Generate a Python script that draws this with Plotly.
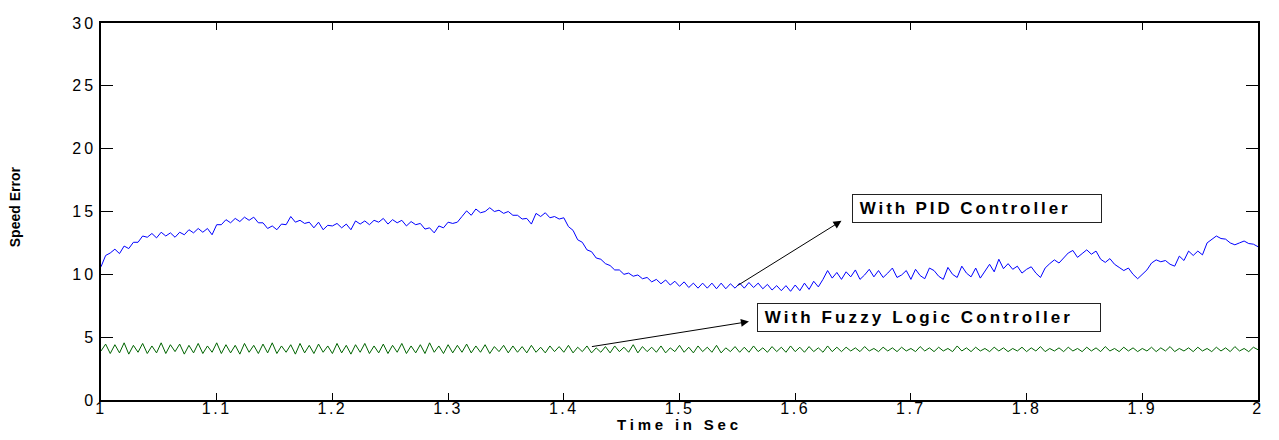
import numpy as np
import plotly.graph_objects as go

# Speed error with PID controller, sampled every 0.004 s from t = 1.0 to 2.0
pid_error = [
    10.6, 11.5, 11.7, 12.0, 11.65, 12.25, 12.05, 12.55, 12.55, 13.05,
    12.95, 13.25, 12.9, 13.35, 13.05, 13.3, 12.95, 13.35, 13.15, 13.55,
    13.3, 13.65, 13.35, 13.65, 13.15, 13.95, 13.95, 14.35, 14.1, 14.45,
    14.2, 14.55, 14.3, 14.55, 14.1, 14.1, 13.65, 13.85, 13.55, 14.0,
    13.95, 14.6, 14.15, 14.3, 14.05, 14.15, 13.7, 14.15, 13.55, 13.9,
    13.85, 14.05, 13.7, 14.0, 13.55, 14.25, 14.0, 14.25, 13.95, 14.3,
    14.15, 14.45, 14.0, 14.35, 14.1, 14.3, 13.85, 14.2, 13.95, 14.05,
    13.6, 13.7, 13.3, 13.85, 13.7, 14.15, 14.05, 14.15, 14.6, 15.05,
    14.7, 15.2, 14.9, 15.0, 15.3, 15.0, 15.1, 14.85, 15.0, 14.7,
    14.7, 14.4, 14.45, 14.0, 14.85, 14.6, 14.9, 14.5, 14.6, 14.4,
    14.5, 13.8, 13.5, 12.75, 12.55, 11.95, 11.8, 11.3, 11.2, 10.85,
    10.7, 10.35, 10.35, 10.0, 10.1, 9.85, 9.95, 9.65, 9.75, 9.4,
    9.6, 9.25, 9.55, 9.15, 9.45, 9.05, 9.4, 8.95, 9.3, 8.9,
    9.3, 8.9, 9.3, 8.85, 9.3, 8.85, 9.25, 8.9, 9.3, 8.9,
    9.35, 8.95, 9.3, 8.85, 9.2, 8.75, 9.1, 8.7, 9.1, 8.65,
    9.15, 8.7, 9.3, 8.8, 9.45, 9.0, 9.6, 10.3, 9.7, 10.15,
    9.6, 10.2, 9.8, 10.35, 9.6, 9.95, 10.4, 9.8, 10.3, 9.75,
    10.1, 10.5, 9.75, 9.95, 10.3, 9.6, 10.4, 9.9, 9.65, 10.5,
    10.3, 9.85, 9.6, 10.55, 10.0, 9.75, 10.65, 10.1, 9.8, 10.5,
    9.7, 10.2, 10.8, 10.2, 11.2, 10.45, 10.85, 10.4, 10.65, 10.1,
    10.4, 10.6, 10.1, 9.75, 10.5, 10.85, 11.15, 10.9, 11.3, 11.7,
    11.9, 11.35, 11.65, 11.95, 11.6, 11.85, 11.2, 10.95, 11.25, 10.8,
    10.55, 10.3, 10.5, 10.0, 9.65, 10.0, 10.35, 10.9, 11.15, 11.0,
    11.1, 10.8, 10.65, 11.45, 11.1, 11.85, 11.5, 11.85, 11.55, 12.5,
    12.8, 13.05, 12.85, 12.8, 12.5, 12.35, 12.5, 12.65, 12.45, 12.4,
    12.2,
]

# Speed error with fuzzy logic controller, same sampling
fuzzy_error = [
    3.9, 4.45, 3.7, 4.4, 3.75, 4.55, 3.65, 4.35, 3.8, 4.5,
    3.7, 4.3, 3.75, 4.55, 3.7, 4.4, 3.85, 4.45, 3.65, 4.35,
    3.75, 4.5, 3.7, 4.3, 3.8, 4.55, 3.7, 4.4, 3.75, 4.35,
    3.65, 4.5, 3.8, 4.35, 3.7, 4.45, 3.75, 4.55, 3.7, 4.3,
    3.8, 4.4, 3.65, 4.5, 3.75, 4.35, 3.7, 4.45, 3.8, 4.3,
    3.7, 4.5, 3.75, 4.35, 3.65, 4.4, 3.8, 4.5, 3.7, 4.3,
    3.75, 4.45, 3.7, 4.35, 3.8, 4.5, 3.7, 4.3, 3.75, 4.4,
    3.7, 4.55, 3.8, 4.3, 3.7, 4.4, 3.75, 4.35, 3.8, 4.45,
    3.75, 4.3, 3.8, 4.4, 3.7, 4.25, 3.85, 4.35, 3.75, 4.3,
    3.8, 4.25, 3.75, 4.35, 3.8, 4.2, 3.75, 4.3, 3.85, 4.25,
    3.8, 4.35, 3.75, 4.2, 3.85, 4.3, 3.75, 4.15, 3.8, 4.25,
    3.75, 4.3, 3.85, 4.2, 3.8, 4.4, 3.75, 4.25, 3.85, 4.2,
    3.8, 4.3, 3.75, 4.15, 3.85, 4.35, 3.8, 4.2, 3.75, 4.3,
    3.85, 4.2, 3.8, 4.35, 3.75, 4.15, 3.85, 4.25, 3.8, 4.2,
    3.8, 4.3, 3.85, 4.15, 3.8, 4.25, 3.85, 4.2, 3.8, 4.3,
    3.85, 4.2, 3.8, 4.25, 3.85, 4.15, 3.8, 4.3, 3.85, 4.2,
    3.85, 4.2, 3.9, 4.15, 3.85, 4.25, 3.9, 4.1, 3.85, 4.2,
    3.9, 4.15, 3.85, 4.2, 3.9, 4.1, 3.85, 4.25, 3.9, 4.15,
    3.85, 4.2, 3.9, 4.1, 3.85, 4.3, 3.9, 4.15, 3.85, 4.2,
    3.9, 4.1, 3.85, 4.2, 3.9, 4.15, 3.85, 4.1, 3.9, 4.2,
    3.85, 4.15, 3.9, 4.25, 3.85, 4.1, 3.9, 4.15, 3.85, 4.2,
    3.9, 4.1, 3.85, 4.2, 3.9, 4.15, 3.85, 4.25, 3.9, 4.1,
    3.85, 4.2, 3.9, 4.15, 3.85, 4.1, 3.9, 4.2, 3.85, 4.15,
    3.9, 4.25, 3.85, 4.1, 3.9, 4.15, 3.85, 4.2, 3.9, 4.1,
    3.85, 4.2, 3.9, 4.15, 3.85, 4.25, 3.9, 4.1, 3.85, 4.2,
    4.0,
]

t_start, t_end = 1.0, 2.0
time_s = np.round(np.linspace(t_start, t_end, len(pid_error)), 4)

x_ticks = [1, 1.1, 1.2, 1.3, 1.4, 1.5, 1.6, 1.7, 1.8, 1.9, 2]
x_tick_labels = ["1", "1.1", "1.2", "1.3", "1.4", "1.5", "1.6", "1.7", "1.8", "1.9", "2"]
y_ticks = [0, 5, 10, 15, 20, 25, 30]
y_tick_labels = ["0", "5", "10", "15", "20", "25", "30"]

pid_label = "With PID Controller"
fuzzy_label = "With Fuzzy Logic Controller"


def wide(s, sp):
    return '<span style="letter-spacing:%spx">%s</span>' % (sp, s)


fig = go.Figure()
fig.add_trace(go.Scatter(x=time_s, y=pid_error, mode="lines",
                         line=dict(color="#0000ff", width=1), name=pid_label,
                         showlegend=False))
fig.add_trace(go.Scatter(x=time_s, y=fuzzy_error, mode="lines",
                         line=dict(color="#006400", width=1), name=fuzzy_label,
                         showlegend=False))

tick_font = dict(family="Liberation Sans", size=16, color="black")
box_font = dict(family="Liberation Sans", size=17, color="black")

# arrows
fig.add_annotation(x=1.640, y=14.26, ax=1.549, ay=9.04, xref="x", yref="y",
                   axref="x", ayref="y", text="", showarrow=True,
                   arrowhead=2, arrowsize=1.6, arrowwidth=1, arrowcolor="black")
fig.add_annotation(x=1.560, y=6.24, ax=1.423, ay=4.23, xref="x", yref="y",
                   axref="x", ayref="y", text="", showarrow=True,
                   arrowhead=2, arrowsize=1.6, arrowwidth=1, arrowcolor="black")

# text boxes
fig.add_annotation(x=1.7567, y=15.23, xref="x", yref="y",
                   text="&nbsp;<b>" + wide(pid_label, 2.9) + "</b>",
                   showarrow=False, width=244, height=23, align="left",
                   bordercolor="#222", borderwidth=1, borderpad=2, bgcolor="white",
                   font=box_font)
fig.add_annotation(x=1.7157, y=6.59, xref="x", yref="y",
                   text="&nbsp;<b>" + wide(fuzzy_label, 3.1) + "</b>",
                   showarrow=False, width=338, height=23, align="left",
                   bordercolor="#222", borderwidth=1, borderpad=2, bgcolor="white",
                   font=box_font)

# axis titles
fig.add_annotation(x=0.5, y=-0.0932, xref="paper", yref="paper",
                   text="<b>" + wide("Time in Sec", 3.8) + "</b>",
                   showarrow=False, xanchor="center", yanchor="bottom",
                   font=dict(family="Liberation Sans", size=15, color="black"))
fig.add_annotation(x=-0.0741, y=0.512, xref="paper", yref="paper", text="<b>Speed Error</b>",
                   showarrow=False, textangle=-90, xanchor="center", yanchor="middle",
                   font=dict(family="Liberation Sans", size=14, color="black"))

# page body has an 8px margin, so the figure is shrunk and shifted to match
fig.update_layout(
    width=1263, height=424,
    margin=dict(l=93, r=10, t=7, b=32),
    paper_bgcolor="white", plot_bgcolor="white",
    showlegend=False,
)
fig.update_xaxes(range=[1, 2], tickvals=x_ticks,
                 ticktext=[wide(s, 2.5) for s in x_tick_labels],
                 ticks="inside", ticklen=7, tickcolor="black", tickwidth=1,
                 ticklabelstandoff=-7,
                 showline=True, linecolor="black", linewidth=1.5, mirror="ticks",
                 showgrid=False, zeroline=False, tickfont=tick_font)
fig.update_yaxes(range=[0, 30], tickvals=y_ticks,
                 ticktext=[wide(s, 3) for s in y_tick_labels],
                 ticks="inside", ticklen=12, tickcolor="black", tickwidth=1,
                 showline=True, linecolor="black", linewidth=1.5, mirror="ticks",
                 showgrid=False, zeroline=False, tickfont=tick_font)

fig.write_html("out.html")
